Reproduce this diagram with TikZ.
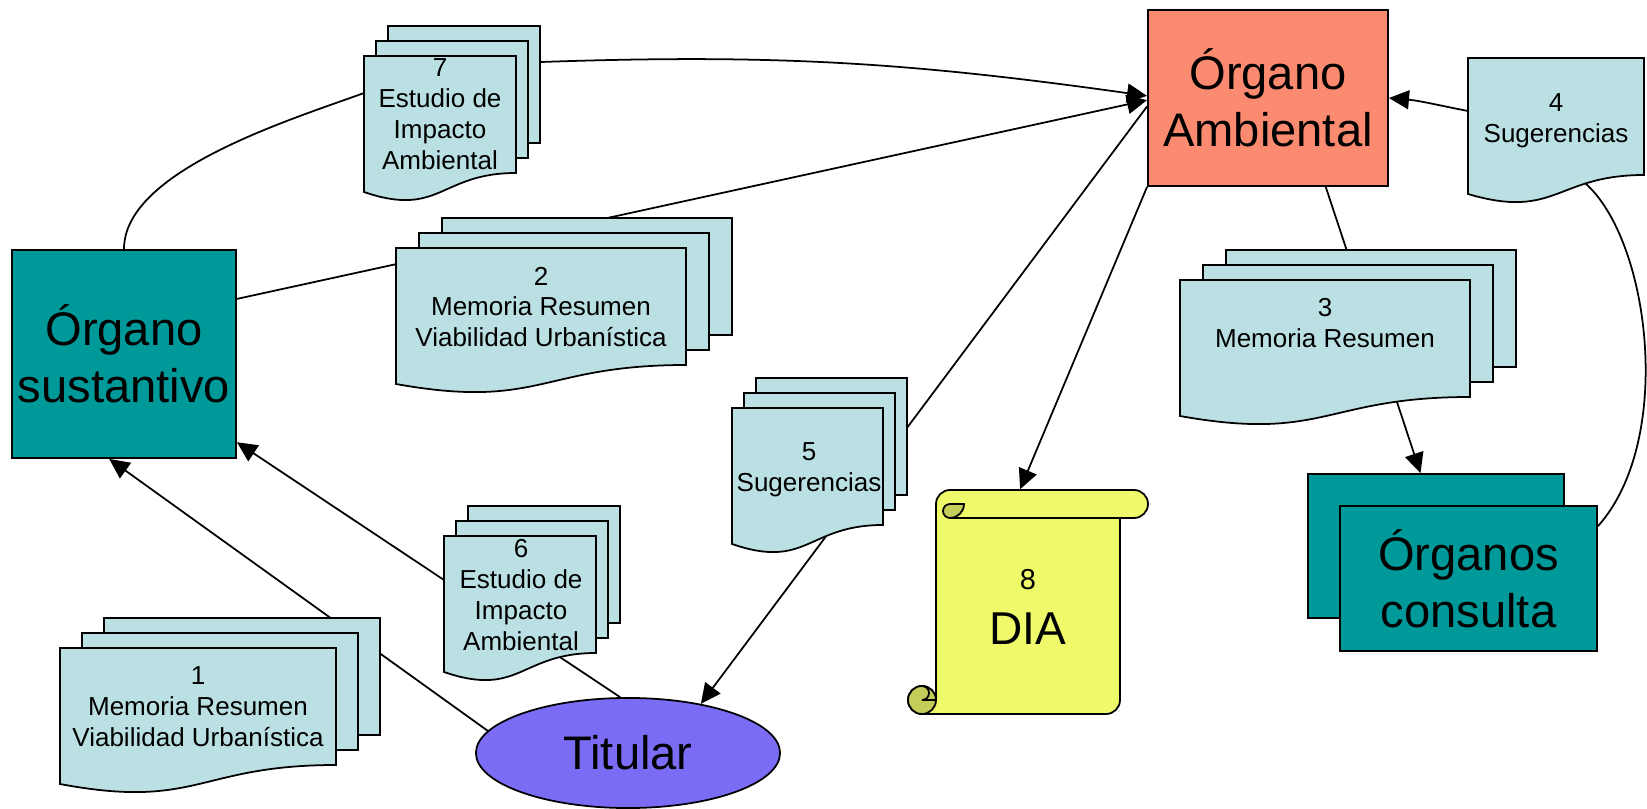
\documentclass[tikz,border=0pt]{standalone}
\usepackage{fontspec}
\setmainfont{Liberation Sans}
\usetikzlibrary{arrows.meta, shapes.geometric}
\definecolor{docblue}{RGB}{187,224,227}
\definecolor{tealbox}{RGB}{0,153,153}
\definecolor{salmonbox}{RGB}{250,138,112}
\definecolor{titcol}{RGB}{123,108,246}
\definecolor{scrollyel}{RGB}{238,250,106}
\definecolor{scrollolive}{RGB}{196,205,90}
\newcommand\sheetfont{\fontsize{7.4}{8.8}\selectfont}
\newcommand\orgfont{\fontsize{13.4}{16.2}\selectfont}
\newcommand\docpage[3]{%
  \draw[sheet] (#1,#2) -- ({#1+#3},#2) -- ({#1+#3},{#2-117})
    .. controls ({#1+0.5*#3},{#2-117}) and ({#1+0.5*#3},{#2-162}) .. (#1,{#2-136}) -- cycle;}
\newcommand\docstack[4]{%
  \draw[sheet] ({#1+2*#4},{#2+30}) rectangle ++(#3,-117);
  \draw[sheet] ({#1+#4},{#2+15}) rectangle ++(#3,-117);
  \docpage{#1}{#2}{#3}}
\tikzset{>={Triangle[length=5.7pt,width=5.4pt]},
  sheet/.style={draw, line width=0.5pt, fill=docblue},
  orgbox/.style={draw, line width=0.5pt, inner sep=0pt, align=center, font=\orgfont},
  doctext/.style={inner sep=0pt, align=center, font=\sheetfont},
  conn/.style={line width=0.5pt}}

\begin{document}
\begin{tikzpicture}[x=0.01cm, y=0.01cm]
    \useasboundingbox (0,0) rectangle (1647,-809);
    \node[orgbox, fill=tealbox, minimum width=2.24cm, minimum height=2.08cm] (os) at (124,-354) {Órgano\\sustantivo};
    \node[orgbox, fill=salmonbox, minimum width=2.40cm, minimum height=1.76cm] (oa) at (1268,-98) {Órgano\\Ambiental};
    \node[orgbox, fill=tealbox, minimum width=2.56cm, minimum height=1.44cm] (ocb) at (1436,-546) {};
    \node[orgbox, fill=tealbox, minimum width=2.57cm, minimum height=1.45cm] (oc) at (1468.5,-578.5) {Órganos\\consulta};
    \node[orgbox, ellipse, fill=titcol, minimum width=3.04cm, minimum height=1.10cm] (tit) at (628,-753) {Titular};
    \node[inner sep=0pt, minimum width=1.84cm, minimum height=2.24cm] (dia) at (1028,-602) {};
    \draw[line width=0.5pt, fill=scrollyel] (936,-700) -- (936,-504) arc[start angle=180, end angle=90, radius=14] -- (1134,-490) arc[start angle=90, end angle=-90, radius=14] -- (1120,-518) -- (1120,-700) arc[start angle=0, end angle=-90, radius=14] -- (922,-714) arc[start angle=-90, end angle=-360, radius=14] -- cycle;
    \draw[line width=0.5pt] (950,-518) -- (1134,-518);
    \draw[line width=0.5pt, fill=scrollolive] (950,-518) arc[start angle=-90, end angle=0, radius=14] -- (950,-504) arc[start angle=90, end angle=270, radius=7] -- cycle;
    \draw[line width=0.5pt, fill=scrollolive] (922,-700) circle[radius=14];
    \draw[line width=0.5pt] (922,-686) arc[start angle=90, end angle=-90, radius=7] -- (936,-700);
    \node[inner sep=0pt, align=center, font=\fontsize{13.1}{15.4}\selectfont] (diat) at (1028,-607) {{\fontsize{8.2}{9.8}\selectfont 8}\\DIA};
    \coordinate (w7a) at (364,-93);
    \coordinate (w7b) at (541,-62);
    \coordinate (w4a) at (1585,-183);
    \coordinate (w4b) at (1468,-111);
    \draw[conn, ->] (os.26.6) -- (oa.181);
    \draw[conn, ->] (os.north) to[out=90, in=200, looseness=0.7] (w7a) -- (w7b) to[out=2, in=172] (oa.179);
    \draw[conn, ->] (oa.184.3) -- (tit.34);
    \draw[conn, ->] (tit.171) -- (os.262.3);
    \draw[conn, ->] (tit.98) -- (os.-38.5);
    \draw[conn, ->] (oa.south west) -- (dia.94);
    \draw[conn, ->] (oa.-57.1) -- (ocb.102.5);
    \draw[conn, ->] (oc.22.6) .. controls (1675,-440) and (1650,-240) .. (w4a) -- (w4b) to[out=169, in=-5] (oa.east);
    \docstack{60}{-648}{276}{22}
    \node[doctext] (d1) at (198,-707) {1\\Memoria Resumen\\Viabilidad Urbanística};
    \docstack{396}{-248}{290}{23}
    \node[doctext] (d2) at (541,-307) {2\\Memoria Resumen\\Viabilidad Urbanística};
    \docstack{1180}{-280}{290}{23}
    \node[doctext] (d3) at (1325,-323) {3\\Memoria Resumen};
    \docpage{1468}{-58}{176}
    \node[doctext] (d4) at (1556,-121) {4\\Sugerencias};
    \docstack{732}{-408}{151}{12}
    \node[doctext] (d5) at (809,-470) {5\\Sugerencias};
    \docstack{444}{-536}{152}{12}
    \node[doctext] (d6) at (521,-595) {6\\Estudio de\\Impacto\\Ambiental};
    \docstack{364}{-56}{152}{12}
    \node[doctext] (d7) at (440,-114) {7\\Estudio de\\Impacto\\Ambiental};
\end{tikzpicture}
\end{document}
